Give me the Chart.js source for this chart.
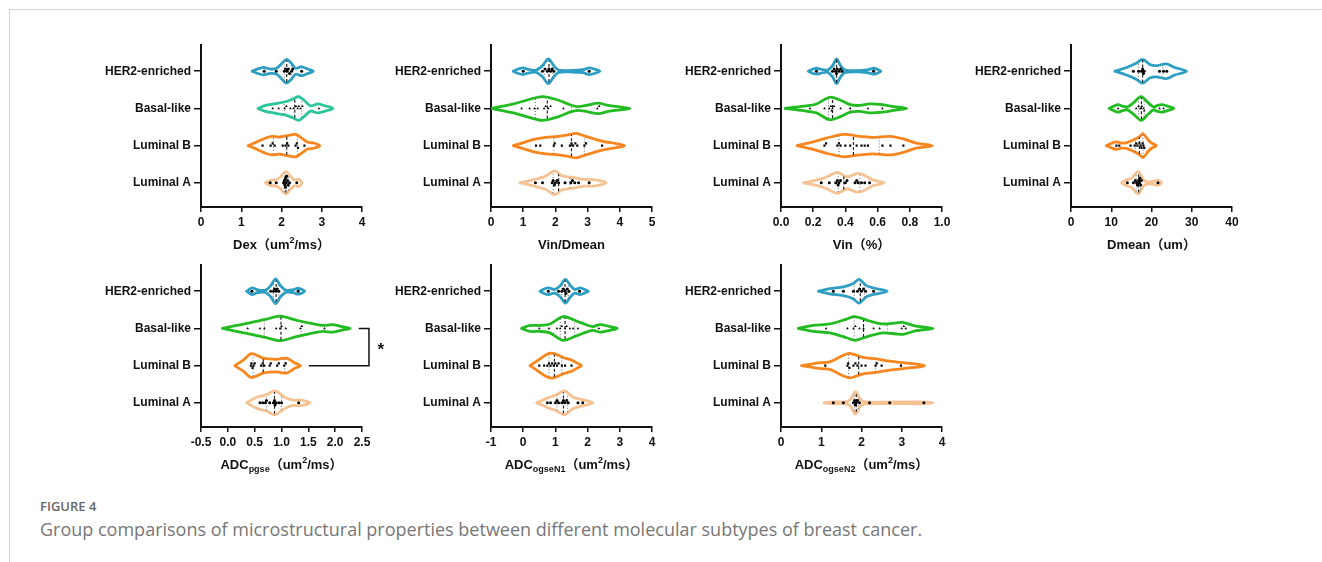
<!DOCTYPE html>
<html lang="en">
<head>
  <meta charset="UTF-8" />
  <title>Figure 4</title>
  <script src="https://cdn.jsdelivr.net/npm/chart.js"></script>
  <style>
    body { margin: 0; width: 1322px; height: 562px; background: #fff; position: relative; overflow: hidden; }
    .frame-top { position: absolute; left: 9px; top: 9px; right: 0; border-top: 1px solid #d4d4d4; }
    .frame-left { position: absolute; left: 9px; top: 9px; bottom: 0; border-left: 1px solid #d4d4d4; }
    canvas { position: absolute; }
    .fig-no { position: absolute; left: 40px; top: 497px; font: 600 13px "Open Sans", sans-serif; color: #666; }
    .fig-cap { position: absolute; left: 40px; top: 517px; font: 18px "Open Sans", sans-serif; color: #777; white-space: nowrap; }
  </style>
</head>
<body>
  <div class="frame-top"></div>
  <div class="frame-left"></div>
  <div class="fig-no">FIGURE 4</div>
  <div class="fig-cap">Group comparisons of microstructural properties between different molecular subtypes of breast cancer.</div>

  <script>
    // row labels, top to bottom
    const categories = ['HER2-enriched', 'Basal-like', 'Luminal B', 'Luminal A'];

    // ---- Dex ----
    const dexTicks = [0, 1, 2, 3, 4];
    const dexTickLabels = ['0', '1', '2', '3', '4'];
    const dexPoints = [
      [1.57, 1.87, 2.07, 2.1, 2.14, 2.17, 2.2, 2.25, 2.28, 2.5],
      [1.78, 1.93, 2.08, 2.12, 2.22, 2.3, 2.36, 2.4, 2.43, 2.47, 2.52, 2.93],
      [1.53, 1.73, 1.78, 1.83, 2.03, 2.1, 2.14, 2.17, 2.35, 2.38, 2.41, 2.57],
      [1.72, 1.87, 2.05, 2.07, 2.08, 2.1, 2.1, 2.12, 2.13, 2.15, 2.17, 2.2, 2.38]
    ];
    const dexStats = [[2.07, 2.13, 2.25], [2.07, 2.33, 2.5], [1.8, 2.13, 2.4], [2.07, 2.11, 2.18]];
    const dexShapes = [
      [[1.27,0],[1.38,0.05],[1.55,0.1],[1.72,0.06],[1.88,0.08],[2.0,0.2],[2.12,0.32],[2.24,0.22],[2.35,0.08],[2.5,0.12],[2.65,0.06],[2.79,0]],
      [[1.42,0],[1.6,0.08],[1.85,0.13],[2.1,0.18],[2.28,0.25],[2.43,0.32],[2.58,0.2],[2.72,0.07],[2.9,0.12],[3.08,0.07],[3.28,0]],
      [[1.17,0],[1.35,0.08],[1.55,0.18],[1.75,0.25],[1.95,0.23],[2.15,0.27],[2.35,0.3],[2.5,0.2],[2.65,0.09],[2.8,0.07],[2.95,0]],
      [[1.6,0],[1.72,0.07],[1.85,0.08],[1.97,0.15],[2.1,0.3],[2.22,0.18],[2.32,0.08],[2.42,0.1],[2.51,0]]
    ];

    // ---- Vin/Dmean ----
    const ratioTicks = [0, 1, 2, 3, 4, 5];
    const ratioTickLabels = ['0', '1', '2', '3', '4', '5'];
    const ratioPoints = [
      [1.0, 1.6, 1.68, 1.75, 1.8, 1.85, 1.9, 1.95, 3.05],
      [0.95, 1.2, 1.35, 1.45, 1.65, 1.7, 1.78, 1.85, 2.25, 3.3, 3.36],
      [1.4, 1.53, 1.95, 1.98, 2.2, 2.45, 2.5, 2.55, 2.62, 2.68, 2.9, 2.95, 3.45],
      [1.38, 1.6, 1.9, 1.93, 1.97, 2.0, 2.05, 2.1, 2.3, 2.48, 2.53, 2.6, 2.72, 3.05]
    ];
    const ratioStats = [[1.65, 1.8, 1.92], [1.38, 1.75, 2.5], [1.95, 2.5, 2.9], [1.93, 2.1, 2.45]];
    const ratioShapes = [
      [[0.69,0],[0.85,0.06],[1.0,0.09],[1.15,0.05],[1.4,0.03],[1.6,0.15],[1.78,0.33],[1.95,0.15],[2.1,0.03],[2.5,0.02],[2.85,0.04],[3.05,0.09],[3.2,0.06],[3.38,0]],
      [[0.0,0],[0.35,0.06],[0.7,0.12],[1.1,0.22],[1.6,0.32],[2.1,0.22],[2.45,0.1],[2.7,0.05],[3.0,0.09],[3.33,0.14],[3.65,0.08],[4.0,0.04],[4.31,0]],
      [[0.69,0],[1.0,0.08],[1.3,0.16],[1.7,0.22],[2.1,0.25],[2.45,0.3],[2.65,0.33],[2.9,0.26],[3.2,0.18],[3.55,0.1],[3.85,0.06],[4.15,0]],
      [[0.9,0],[1.3,0.08],[1.7,0.18],[1.98,0.32],[2.2,0.19],[2.5,0.15],[2.9,0.09],[3.25,0.08],[3.58,0]]
    ];

    // ---- Vin (%) ----
    const vinTicks = [0, 0.2, 0.4, 0.6, 0.8, 1.0];
    const vinTickLabels = ['0.0', '0.2', '0.4', '0.6', '0.8', '1.0'];
    const vinPoints = [
      [0.22, 0.32, 0.33, 0.34, 0.345, 0.35, 0.36, 0.37, 0.38, 0.575],
      [0.18, 0.27, 0.3, 0.31, 0.315, 0.32, 0.33, 0.37, 0.43, 0.54, 0.63],
      [0.27, 0.28, 0.35, 0.36, 0.37, 0.4, 0.43, 0.47, 0.5, 0.52, 0.54, 0.63, 0.68, 0.76],
      [0.25, 0.3, 0.34, 0.35, 0.355, 0.36, 0.37, 0.4, 0.41, 0.46, 0.47, 0.48, 0.5, 0.52, 0.55]
    ];
    const vinStats = [[0.33, 0.345, 0.37], [0.295, 0.32, 0.43], [0.36, 0.45, 0.61], [0.355, 0.39, 0.49]];
    const vinShapes = [
      [[0.17,0],[0.2,0.06],[0.22,0.08],[0.25,0.05],[0.29,0.03],[0.32,0.15],[0.345,0.33],[0.37,0.15],[0.4,0.03],[0.5,0.02],[0.55,0.05],[0.575,0.08],[0.6,0.05],[0.62,0]],
      [[0.025,0],[0.14,0.06],[0.22,0.12],[0.3,0.3],[0.37,0.22],[0.43,0.1],[0.49,0.08],[0.55,0.12],[0.63,0.1],[0.7,0.05],[0.78,0]],
      [[0.1,0],[0.2,0.1],[0.28,0.2],[0.39,0.3],[0.49,0.25],[0.57,0.22],[0.68,0.25],[0.76,0.18],[0.84,0.07],[0.94,0]],
      [[0.14,0],[0.22,0.07],[0.28,0.15],[0.35,0.28],[0.41,0.16],[0.47,0.25],[0.51,0.22],[0.57,0.08],[0.64,0]]
    ];

    // ---- Dmean ----
    const dmeanTicks = [0, 10, 20, 30, 40];
    const dmeanTickLabels = ['0', '10', '20', '30', '40'];
    const dmeanPoints = [
      [15.5, 16.8, 17.5, 17.8, 18, 18.2, 22, 23, 23.8],
      [11.7, 16.2, 16.8, 17.2, 17.6, 18, 18.2, 22, 23],
      [11.3, 12, 14.8, 15.8, 16.2, 16.5, 17, 17.3, 17.5, 17.8, 18, 18.2],
      [14, 15.5, 16, 16.3, 16.5, 16.8, 17, 17.1, 17.3, 17.5, 21.6]
    ];
    const dmeanStats = [[16.8, 17.8, 22.8], [16.8, 17.5, 18.2], [16, 17, 17.9], [16.2, 16.8, 17.3]];
    const dmeanShapes = [
      [[10.9,0],[13.8,0.1],[16.3,0.22],[17.8,0.32],[19.6,0.18],[21.2,0.15],[23.7,0.2],[25.8,0.1],[28.7,0]],
      [[9.5,0],[10.8,0.07],[11.7,0.1],[12.8,0.06],[14,0.04],[15.5,0.15],[17.4,0.32],[19.2,0.15],[20.5,0.04],[21.5,0.08],[22.6,0.1],[24,0.06],[25.5,0]],
      [[8.8,0],[10,0.06],[11.2,0.1],[12.5,0.07],[13.5,0.07],[15.5,0.15],[17.1,0.25],[17.9,0.32],[19.2,0.15],[20,0.07],[21.2,0]],
      [[12.6,0],[13.8,0.08],[15,0.12],[16.7,0.3],[17.9,0.1],[18.8,0.03],[20.5,0.04],[21.5,0.07],[22.5,0]]
    ];

    // ---- ADC pgse ----
    const pgseTicks = [-0.5, 0, 0.5, 1, 1.5, 2, 2.5];
    const pgseTickLabels = ['-0.5', '0.0', '0.5', '1.0', '1.5', '2.0', '2.5'];
    const pgsePoints = [
      [0.45, 0.8, 0.85, 0.87, 0.9, 0.92, 0.95, 1.31],
      [0.37, 0.6, 0.68, 0.9, 0.97, 1.0, 1.08, 1.35, 1.38, 1.8],
      [0.43, 0.44, 0.46, 0.48, 0.5, 0.62, 0.65, 0.68, 0.78, 0.8, 0.92, 0.95, 1.05, 1.08],
      [0.6, 0.65, 0.7, 0.72, 0.78, 0.85, 0.87, 0.88, 0.9, 0.95, 1.0, 1.32]
    ];
    const pgseStats = [[0.85, 0.9, 0.95], [0.68, 0.99, 1.37], [0.47, 0.66, 1.06], [0.72, 0.87, 1.0]];
    const pgseShapes = [
      [[0.35,0],[0.45,0.09],[0.55,0.04],[0.7,0.03],[0.8,0.15],[0.89,0.33],[0.98,0.15],[1.08,0.03],[1.22,0.04],[1.31,0.08],[1.43,0]],
      [[-0.1,0],[0.16,0.08],[0.41,0.15],[0.72,0.25],[0.98,0.33],[1.28,0.22],[1.6,0.12],[1.78,0.08],[1.96,0.1],[2.15,0.04],[2.28,0]],
      [[0.13,0],[0.29,0.15],[0.44,0.32],[0.66,0.2],[0.91,0.17],[1.09,0.2],[1.25,0.07],[1.35,0]],
      [[0.35,0],[0.54,0.15],[0.72,0.22],[0.88,0.32],[1.06,0.15],[1.22,0.07],[1.34,0.08],[1.53,0]]
    ];
    // Basal-like vs Luminal B significance bracket
    const pgseBracket = [[2.44, 3], [2.63, 3], [2.63, 2], [1.51, 2]];
    const pgseStar = [2.85, 2.5];

    // ---- ADC ogseN1 ----
    const n1Ticks = [-1, 0, 1, 2, 3, 4];
    const n1TickLabels = ['-1', '0', '1', '2', '3', '4'];
    const n1Points = [
      [0.78, 1.1, 1.2, 1.25, 1.3, 1.33, 1.37, 1.42, 1.75],
      [0.5, 0.8, 1.05, 1.15, 1.2, 1.3, 1.35, 1.45, 1.55, 1.7, 2.35],
      [0.5, 0.65, 0.75, 0.8, 0.85, 0.9, 0.95, 1.0, 1.05, 1.1, 1.2, 1.3, 1.5],
      [0.75, 0.85, 1.0, 1.05, 1.1, 1.2, 1.25, 1.3, 1.35, 1.4, 1.7, 1.85]
    ];
    const n1Stats = [[1.2, 1.3, 1.4], [1.15, 1.3, 1.6], [0.8, 0.97, 1.2], [1.05, 1.25, 1.38]];
    const n1Shapes = [
      [[0.52,0],[0.65,0.06],[0.78,0.09],[0.98,0.05],[1.15,0.15],[1.31,0.32],[1.47,0.15],[1.6,0.05],[1.76,0.09],[1.9,0.05],[2.02,0]],
      [[-0.05,0],[0.21,0.08],[0.52,0.08],[0.83,0.12],[1.24,0.32],[1.65,0.2],[1.96,0.1],[2.17,0.05],[2.38,0.1],[2.69,0.05],[2.92,0]],
      [[0.21,0],[0.42,0.12],[0.73,0.3],[0.93,0.33],[1.24,0.22],[1.5,0.15],[1.71,0.05],[1.81,0]],
      [[0.42,0],[0.73,0.12],[1.04,0.22],[1.29,0.32],[1.55,0.15],[1.86,0.08],[2.17,0]]
    ];

    // ---- ADC ogseN2 ----
    const n2Ticks = [0, 1, 2, 3, 4];
    const n2TickLabels = ['0', '1', '2', '3', '4'];
    const n2Points = [
      [1.3, 1.55, 1.8, 1.9, 1.95, 2.0, 2.05, 2.1, 2.3],
      [1.12, 1.65, 1.8, 1.85, 1.95, 2.05, 2.3, 2.45, 3.0, 3.05, 3.1],
      [1.1, 1.65, 1.67, 1.7, 1.8, 1.85, 1.9, 2.0, 2.1, 2.35, 2.38, 2.5, 2.98],
      [1.3, 1.55, 1.8, 1.83, 1.85, 1.87, 1.9, 1.95, 2.2, 2.7, 3.55]
    ];
    const n2Stats = [[1.82, 1.97, 2.08], [1.82, 2.05, 2.65], [1.68, 1.93, 2.35], [1.82, 1.87, 1.92]];
    const n2Shapes = [
      [[0.93,0],[1.21,0.07],[1.55,0.12],[1.79,0.2],[1.94,0.32],[2.12,0.15],[2.33,0.08],[2.64,0]],
      [[0.43,0],[0.8,0.08],[1.21,0.12],[1.63,0.25],[1.83,0.32],[2.2,0.2],[2.54,0.12],[2.87,0.15],[3.03,0.16],[3.36,0.06],[3.78,0]],
      [[0.51,0],[0.88,0.07],[1.21,0.1],[1.55,0.28],[1.71,0.33],[2.04,0.22],[2.37,0.18],[2.7,0.12],[3.03,0.08],[3.32,0.05],[3.57,0]],
      [[1.07,0],[1.3,0.025],[1.6,0.025],[1.72,0.08],[1.85,0.3],[1.98,0.08],[2.1,0.025],[3.5,0.025],[3.78,0]]
    ];

    const groupColors = ['#2e9fc3', '#22bb22', '#f7861e', '#f5c393'];
    const dexColors = ['#2e9fc3', '#2cc49b', '#f7861e', '#f5c393'];
    const markers = ['circle', 'triangle', 'rect', 'circle'];
    const FONT = '"Liberation Sans", Arial, "Noto Sans CJK SC", sans-serif';

    function hwAt(shape, v) {
      for (let i = 1; i < shape.length; i++) {
        const [a, ha] = shape[i - 1], [b, hb] = shape[i];
        if (v >= a && v <= b) return ha + (hb - ha) * (v - a) / (b - a);
      }
      return 0;
    }

    // simple beeswarm so that overlapping dots stack vertically
    function swarm(vals, row, gap) {
      const step = 0.06;
      const placed = [];
      const offs = [0];
      for (let i = 1; i < 8; i++) offs.push(i * step, -i * step);
      return vals.slice().sort((a, b) => a - b).map(v => {
        for (const o of offs) {
          if (!placed.some(p => Math.abs(p.x - v) < gap && Math.abs(p.o - o) < step * 0.9)) {
            placed.push({ x: v, o: o });
            return { x: v, y: row + o };
          }
        }
        return { x: v, y: row };
      });
    }

    const axisTitle = {
      id: 'axisTitle',
      afterDraw(chart, args, opts) {
        const segs = opts.segments;
        if (!segs) return;
        const ctx = chart.ctx, a = chart.chartArea;
        const font = k => k ? 'bold 9px ' + FONT : 'bold 13px ' + FONT;
        let total = 0;
        segs.forEach(s => { ctx.font = font(s[1]); total += ctx.measureText(s[0]).width; });
        let x = (a.left + a.right) / 2 - total / 2;
        const y = a.bottom + 42;
        ctx.save();
        ctx.fillStyle = '#111';
        ctx.textBaseline = 'alphabetic';
        segs.forEach(s => {
          ctx.font = font(s[1]);
          const dy = s[1] === 'sub' ? 3 : s[1] === 'sup' ? -6 : 0;
          ctx.fillText(s[0], x, y + dy);
          x += ctx.measureText(s[0]).width;
        });
        ctx.restore();
      }
    };

    const starMark = {
      id: 'starMark',
      afterDraw(chart, args, opts) {
        if (!opts.at) return;
        const ctx = chart.ctx;
        const px = chart.scales.x.getPixelForValue(opts.at[0]);
        const py = chart.scales.y.getPixelForValue(opts.at[1]);
        ctx.save();
        ctx.font = 'bold 17px ' + FONT;
        ctx.fillStyle = '#111';
        ctx.textAlign = 'center';
        ctx.textBaseline = 'middle';
        ctx.fillText('*', px, py + 3);
        ctx.restore();
      }
    };

    function makePanel(col, row, p) {
      const W = 300, H = 225;
      const cv = document.createElement('canvas');
      cv.width = W; cv.height = H;
      cv.style.left = (90 + 290 * col) + 'px';
      cv.style.top = (35 + 220 * row) + 'px';
      document.body.appendChild(cv);

      const gap = 2.6 * (p.max - p.min) / 161;
      const datasets = [];
      p.shapes.forEach((shape, i) => {
        const r = 4 - i;
        const color = p.colors[i];
        const upper = shape.map(([v, h]) => ({ x: v, y: r + h }));
        const lower = shape.slice().reverse().map(([v, h]) => ({ x: v, y: r - h }));
        datasets.push({
          data: upper.concat(lower.slice(1)), showLine: true, tension: 0.3,
          borderColor: color, borderWidth: 2.8, pointRadius: 0, fill: false,
          borderCapStyle: 'round', borderJoinStyle: 'round', order: 3
        });
        const [q1, med, q3] = p.stats[i];
        [q1, q3].forEach(q => {
          const h = Math.max(hwAt(shape, q) - 0.02, 0);
          datasets.push({
            data: [{ x: q, y: r - h }, { x: q, y: r + h }], showLine: true,
            borderColor: '#666', borderWidth: 1, borderDash: [1, 2], pointRadius: 0, order: 2
          });
        });
        const hm = Math.max(hwAt(shape, med) - 0.02, 0);
        datasets.push({
          data: [{ x: med, y: r - hm }, { x: med, y: r + hm }], showLine: true,
          borderColor: '#222', borderWidth: 1.2, borderDash: [3, 2], pointRadius: 0, order: 1
        });
        datasets.push({
          data: swarm(p.points[i], r, gap), showLine: false,
          pointStyle: markers[i], pointRadius: 1.5, backgroundColor: '#000',
          borderColor: '#000', borderWidth: 0, order: 0
        });
      });
      if (p.bracket) {
        datasets.push({
          data: p.bracket.map(([x, y]) => ({ x, y })), showLine: true, clip: false,
          borderColor: '#111', borderWidth: 1.5, pointRadius: 0, order: 0
        });
      }

      new Chart(cv.getContext('2d'), {
        type: 'scatter',
        data: { datasets },
        options: {
          responsive: false,
          animation: false,
          events: [],
          layout: { padding: { left: 0, top: 10, right: W - 272, bottom: 0 } },
          plugins: {
            legend: { display: false },
            tooltip: { enabled: false },
            axisTitle: { segments: p.title },
            starMark: { at: p.star || null }
          },
          scales: {
            x: {
              type: 'linear', min: p.min, max: p.max,
              afterBuildTicks: s => { s.ticks = p.ticks.map(v => ({ value: v })); },
              afterFit: s => { s.height = 53; },
              ticks: {
                callback: (v, i) => p.labels[i], autoSkip: false, maxRotation: 0,
                padding: 3, color: '#111', font: { family: FONT, weight: 'bold', size: 12 }
              },
              grid: { display: true, drawOnChartArea: false, drawTicks: true, tickLength: 5, color: '#111', lineWidth: 1.5 },
              border: { display: true, color: '#111', width: 2 }
            },
            y: {
              type: 'linear', min: 0.35, max: 4.7,
              afterBuildTicks: s => { s.ticks = [4, 3, 2, 1].map(v => ({ value: v })); },
              afterFit: s => { s.width = 111; },
              ticks: {
                callback: v => categories[4 - v], padding: 3, color: '#111',
                font: { family: FONT, weight: 'bold', size: 12 }
              },
              grid: { display: true, drawOnChartArea: false, drawTicks: true, tickLength: 7, color: '#111', lineWidth: 1.5 },
              border: { display: true, color: '#111', width: 2 }
            }
          }
        },
        plugins: [axisTitle, starMark]
      });
    }

    makePanel(0, 0, { min: 0, max: 4, ticks: dexTicks, labels: dexTickLabels, shapes: dexShapes, points: dexPoints, stats: dexStats, colors: dexColors,
      title: [['Dex（um'], ['2', 'sup'], ['/ms）']] });
    makePanel(1, 0, { min: 0, max: 5, ticks: ratioTicks, labels: ratioTickLabels, shapes: ratioShapes, points: ratioPoints, stats: ratioStats, colors: groupColors,
      title: [['Vin/Dmean']] });
    makePanel(2, 0, { min: 0, max: 1, ticks: vinTicks, labels: vinTickLabels, shapes: vinShapes, points: vinPoints, stats: vinStats, colors: groupColors,
      title: [['Vin（%）']] });
    makePanel(3, 0, { min: 0, max: 40, ticks: dmeanTicks, labels: dmeanTickLabels, shapes: dmeanShapes, points: dmeanPoints, stats: dmeanStats, colors: groupColors,
      title: [['Dmean（um）']] });
    makePanel(0, 1, { min: -0.5, max: 2.5, ticks: pgseTicks, labels: pgseTickLabels, shapes: pgseShapes, points: pgsePoints, stats: pgseStats, colors: groupColors,
      bracket: pgseBracket, star: pgseStar,
      title: [['ADC'], ['pgse', 'sub'], ['（um'], ['2', 'sup'], ['/ms）']] });
    makePanel(1, 1, { min: -1, max: 4, ticks: n1Ticks, labels: n1TickLabels, shapes: n1Shapes, points: n1Points, stats: n1Stats, colors: groupColors,
      title: [['ADC'], ['ogseN1', 'sub'], ['（um'], ['2', 'sup'], ['/ms）']] });
    makePanel(2, 1, { min: 0, max: 4, ticks: n2Ticks, labels: n2TickLabels, shapes: n2Shapes, points: n2Points, stats: n2Stats, colors: groupColors,
      title: [['ADC'], ['ogseN2', 'sub'], ['（um'], ['2', 'sup'], ['/ms）']] });
  </script>
</body>
</html>
